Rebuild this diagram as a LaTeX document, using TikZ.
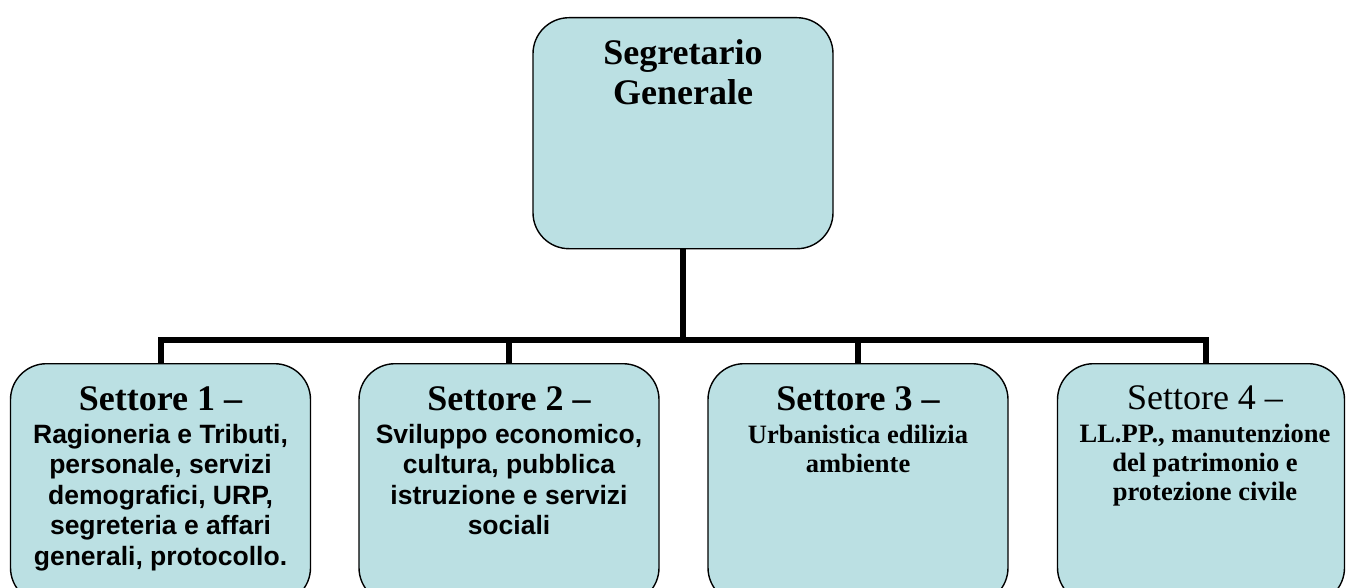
\documentclass[tikz,border=0pt]{standalone}
\usepackage{fontspec}
\setmainfont{Liberation Serif}
\setsansfont{Liberation Sans}
\definecolor{boxfill}{RGB}{187,224,227}
\begin{document}
\begin{tikzpicture}[x=1pt,y=-1pt,
  box/.style={draw=black, line width=1.4pt, fill=boxfill, rounded corners=36pt,
              minimum width=300pt, inner sep=0pt, anchor=north},
  lbl/.style={anchor=base, inner sep=0pt},
  conn/.style={line width=6pt, line join=miter, draw=black}]
\useasboundingbox (0,0) rectangle (1346,588);
\clip (0,0) rectangle (1346,588);

\node[box, minimum height=231pt] (top) at (683,17) {};
\node[box, minimum height=240pt] (b1) at (160.5,363) {};
\node[box, minimum height=240pt] (b2) at (509,363) {};
\node[box, minimum height=240pt] (b3) at (858,363) {};
\node[box, minimum height=240pt, minimum width=287pt] (b4) at (1201,363) {};

\coordinate (bar) at (683.5,340);
\coordinate (b4in) at ([xshift=5pt]b4.north);

\draw[conn] (top.south) -- (top.south |- bar);
\draw[conn] (b1.north) |- (bar) -| (b4in);
\draw[conn] (b2.north) -- (b2.north |- bar);
\draw[conn] (b3.north) -- (b3.north |- bar);

\node[lbl] (ttop) at ([yshift=-48pt]top.north) {\parbox[t]{290pt}{\centering
  \fontsize{36}{40}\selectfont\bfseries Segretario\\ Generale}};

\node[lbl] (t1) at ([yshift=-47pt]b1.north) {\parbox[t]{300pt}{\centering
  \fontsize{36}{40}\selectfont\bfseries Settore 1 –\par\vspace{2.5pt}
  \fontsize{26.5}{30.5}\selectfont\sffamily\bfseries
  Ragioneria e Tributi,\\ personale, servizi\\ demografici, URP,\\
  segreteria e affari\\ generali, protocollo.}};

\node[lbl] (t2) at ([yshift=-47pt]b2.north) {\parbox[t]{300pt}{\centering
  \fontsize{36}{40}\selectfont\bfseries Settore 2 –\par\vspace{2.5pt}
  \fontsize{26.5}{30.5}\selectfont\sffamily\bfseries
  Sviluppo economico,\\ cultura, pubblica\\ istruzione e servizi\\ sociali}};

\node[lbl] (t3) at ([yshift=-47pt]b3.north) {\parbox[t]{300pt}{\centering
  \fontsize{36}{40}\selectfont\bfseries Settore 3 –\par\vspace{4pt}
  \fontsize{26.5}{29}\selectfont\bfseries
  Urbanistica edilizia\\ ambiente}};

\node[lbl] (t4) at ([yshift=-46pt,xshift=4pt]b4.north) {\parbox[t]{300pt}{\centering
  \fontsize{36}{40}\selectfont\mdseries Settore 4 –\par\vspace{4pt}
  \fontsize{26.5}{29}\selectfont\bfseries
  LL.PP., manutenzione\\ del patrimonio e\\ protezione civile}};
\end{tikzpicture}
\end{document}
